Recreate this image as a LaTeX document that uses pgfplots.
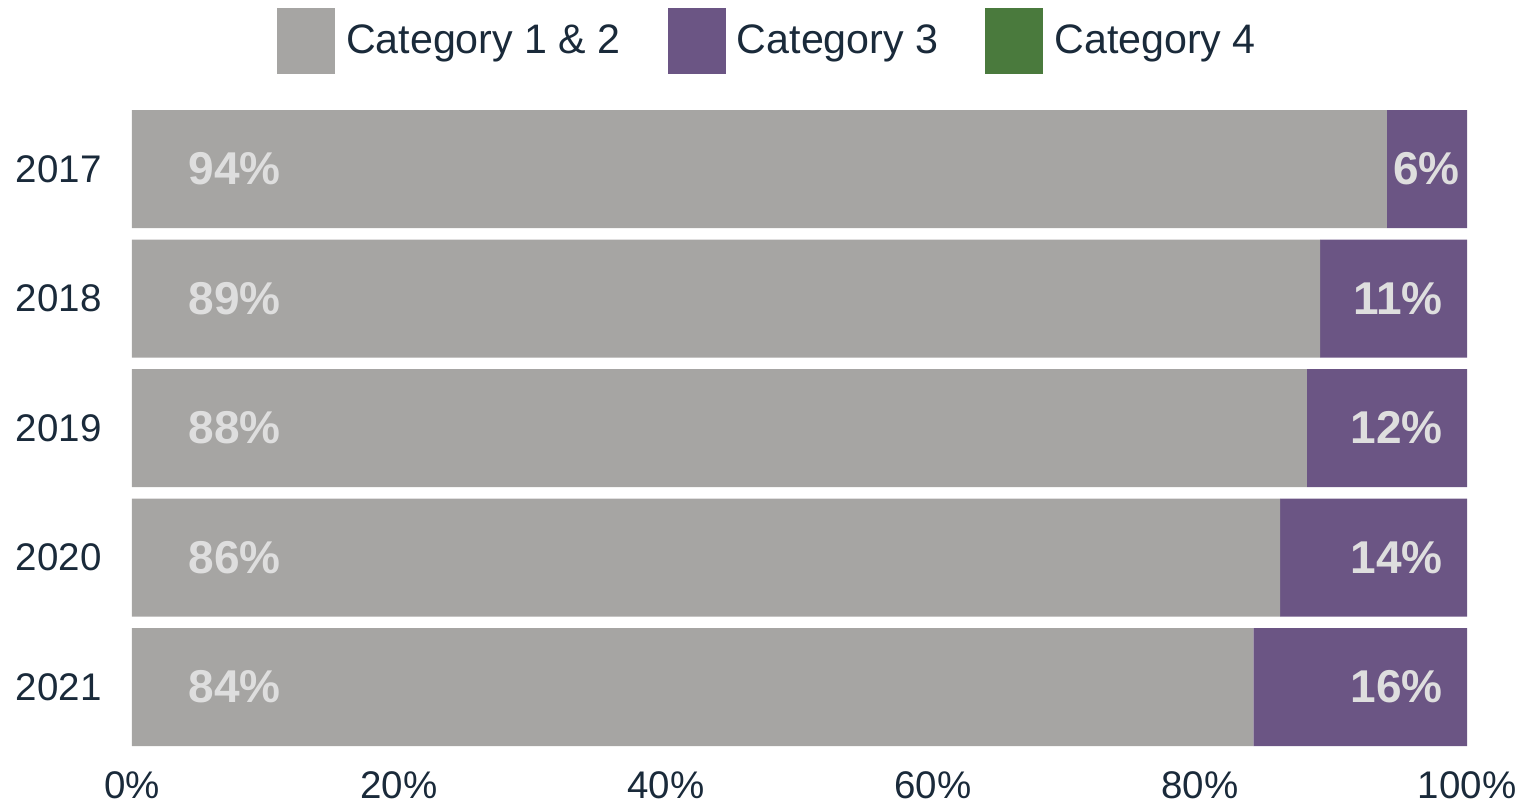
\documentclass[border=0pt]{standalone}
\usepackage{fontspec}
\setmainfont{Liberation Sans}
\usepackage{pgfplots}
\pgfplotsset{compat=1.18}
\definecolor{cgrey}{HTML}{A6A5A3}
\definecolor{cpurple}{HTML}{6B5584}
\definecolor{cgreen}{HTML}{4A7A3D}
\definecolor{ctext}{HTML}{1A2A3A}
\definecolor{clabel}{HTML}{DEDEDE}
\begin{document}
\begin{tikzpicture}
\useasboundingbox (-66pt,-25.125pt) rectangle (698.5pt,375.875pt);
\pgfplotsset{
  common/.style={
    at={(0,0)}, anchor=south west, scale only axis,
    width=667.5pt, height=323.75pt,
    xmin=0, xmax=100, ymin=-0.5, ymax=4.5, y dir=reverse,
    axis line style={draw=none}, tick style={draw=none},
  }
}
\begin{axis}[common, xbar stacked, bar width=59pt,
  xtick={0,20,40,60,80,100}, xticklabels={0\%,20\%,40\%,60\%,80\%,100\%},
  ytick={0,1,2,3,4}, yticklabels={2017,2018,2019,2020,2021},
  tick label style={font=\fontsize{19.25}{22}\selectfont, text=ctext},
  xticklabel style={anchor=north, inner sep=0pt, yshift=-9.5pt},
  yticklabel style={anchor=east, inner sep=0pt, xshift=-15pt},
  legend columns=3,
  legend style={draw=none, fill=none, at={(0.4753,1.0977)}, anchor=center,
    font=\fontsize{20.6}{24}\selectfont, text=ctext,
    nodes={inner sep=0pt},
    /tikz/every odd column/.append style={column sep=5.5pt},
    /tikz/every even column/.append style={column sep=23.5pt}},
  legend image code/.code={\fill[#1] (0pt,-16.5pt) rectangle (29pt,16.5pt);},
]
\addplot[fill=cgrey, draw=none] coordinates {(94,0) (89,1) (88,2) (86,3) (84,4)};
\addplot[fill=cpurple, draw=none] coordinates {(6,0) (11,1) (12,2) (14,3) (16,4)};
\addplot[fill=cgreen, draw=none] coordinates {(0,0) (0,1) (0,2) (0,3) (0,4)};
\legend{Category 1 \& 2, Category 3, Category 4}
\end{axis}
\begin{axis}[common, hide axis]
\addplot[draw=none, mark=none, nodes near coords, point meta=explicit symbolic,
  nodes near coords style={anchor=west, inner sep=0pt, font=\bfseries\fontsize{23}{26}\selectfont, text=clabel}]
  coordinates {(4.2,0) [94\%] (4.2,1) [89\%] (4.2,2) [88\%] (4.2,3) [86\%] (4.2,4) [84\%]};
\addplot[draw=none, mark=none, nodes near coords, point meta=explicit symbolic,
  nodes near coords style={anchor=east, inner sep=0pt, font=\bfseries\fontsize{23}{26}\selectfont, text=clabel}]
  coordinates {(99.48,0) [6\%] (98.2,1) [11\%] (98.2,2) [12\%] (98.2,3) [14\%] (98.2,4) [16\%]};
\end{axis}
\end{tikzpicture}
\end{document}
